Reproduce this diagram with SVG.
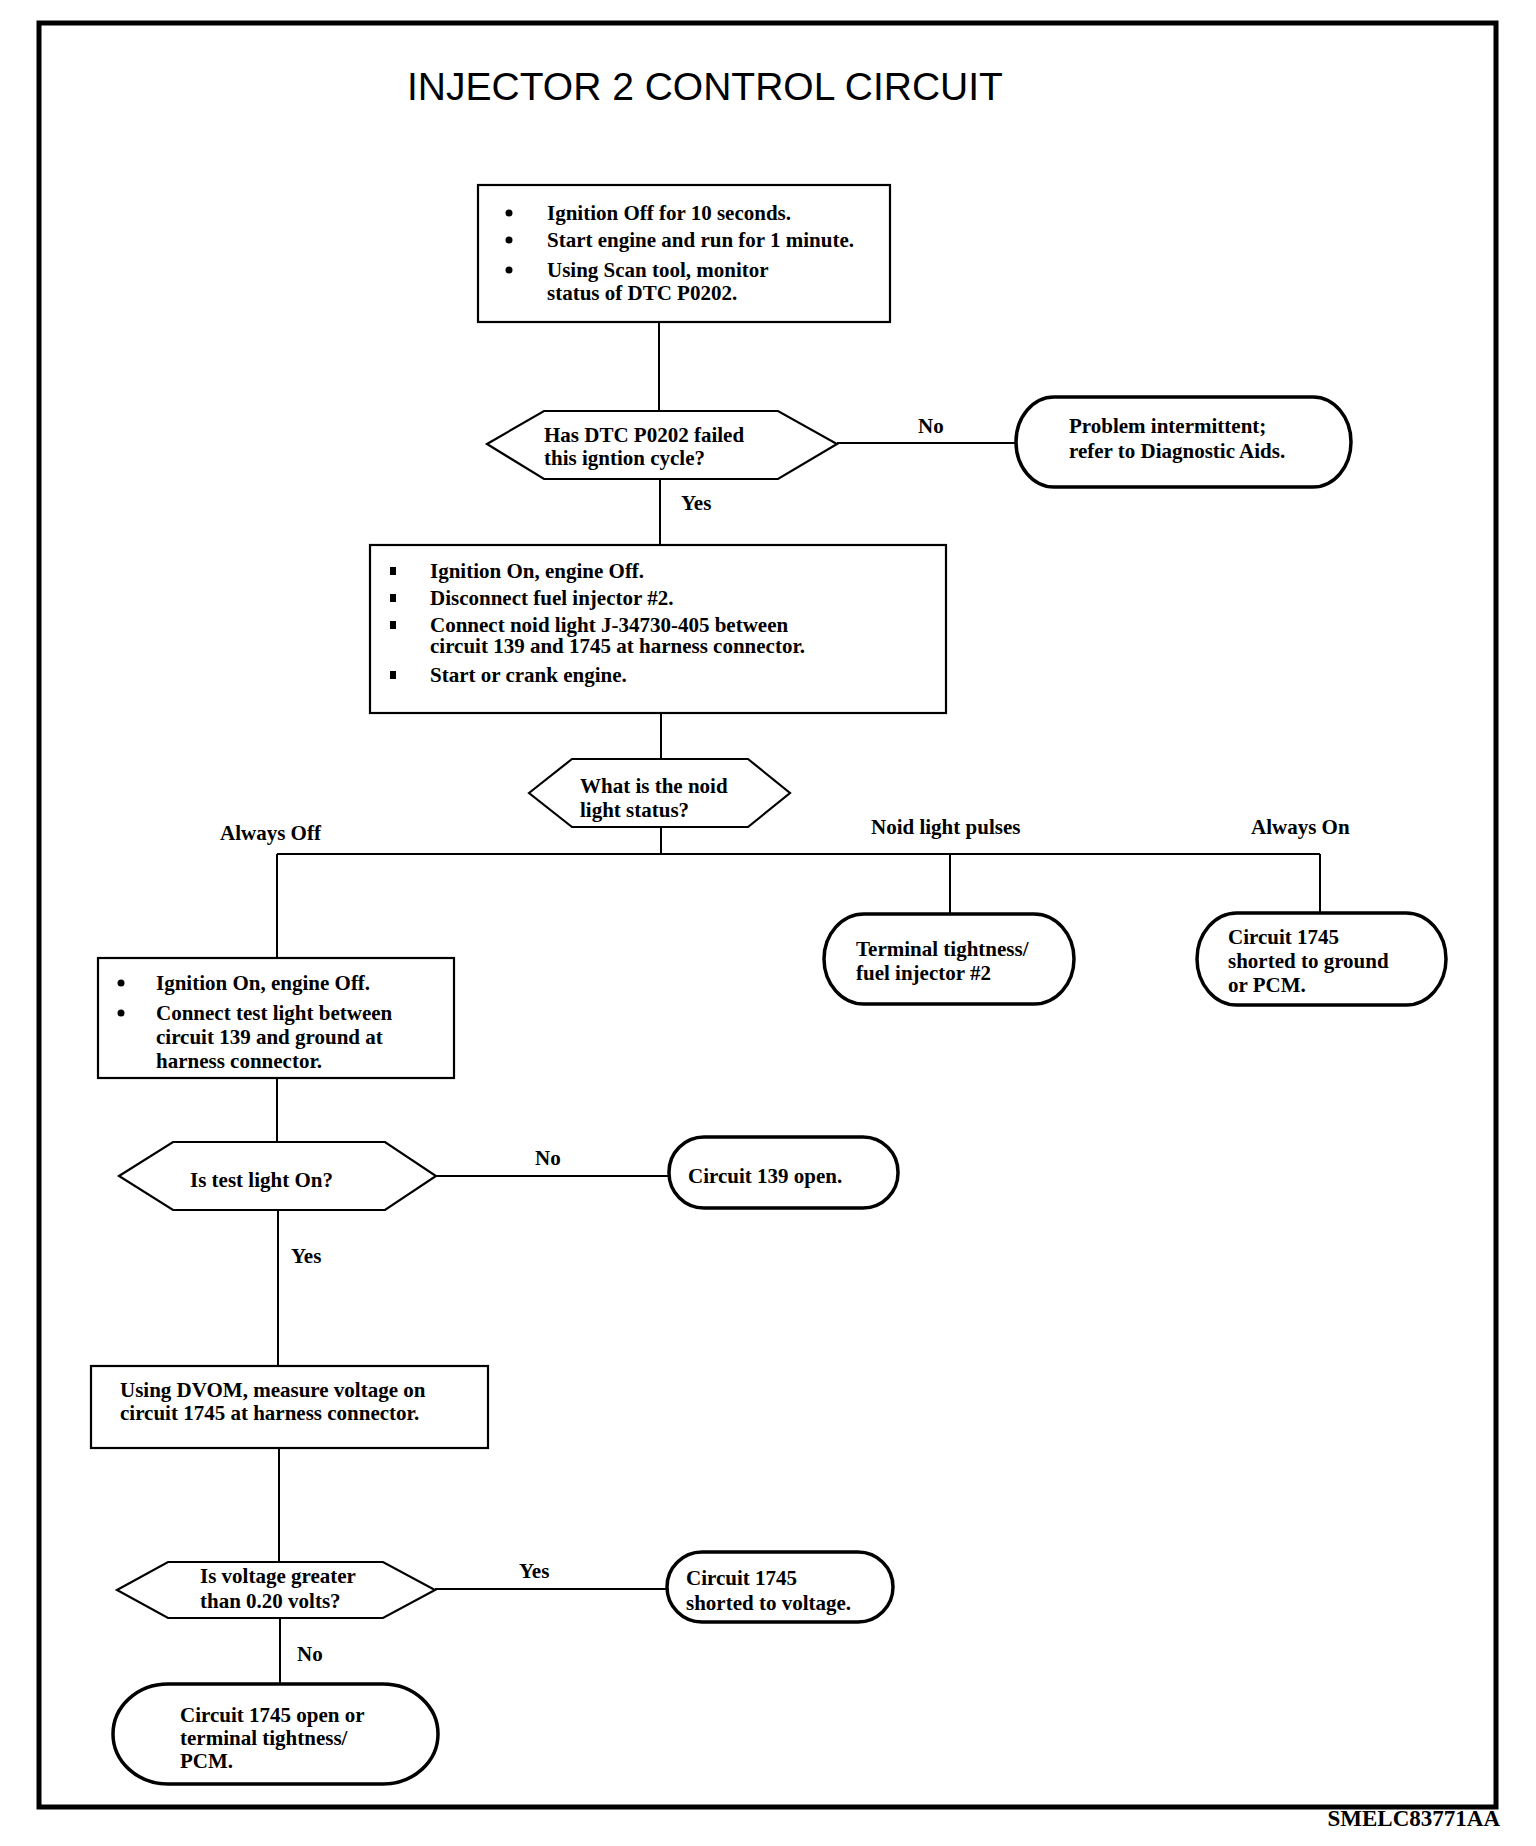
<svg xmlns="http://www.w3.org/2000/svg" width="1536" height="1846" viewBox="0 0 1536 1846">
<style>
.t{font-family:"Liberation Serif","Times New Roman",serif;font-size:21px;font-weight:bold;fill:#000}
.title{font-family:"Liberation Sans",Arial,sans-serif;font-size:39px;fill:#000}
.box{fill:#fff;stroke:#000;stroke-width:2.2}
.dec{fill:#fff;stroke:#000;stroke-width:2.2}
.term{fill:#fff;stroke:#000;stroke-width:3.5}
.ln{fill:none;stroke:#000;stroke-width:2}
.bul{fill:#000}
</style>
<rect width="1536" height="1846" fill="#fff"/>
<rect x="39" y="23" width="1457" height="1784" fill="none" stroke="#000" stroke-width="5"/>
<text class="title" x="407" y="100">INJECTOR 2 CONTROL CIRCUIT</text>

<g id="connectors">
<line class="ln" x1="659" y1="322" x2="659" y2="411"/>
<line class="ln" x1="837" y1="443" x2="1016" y2="443"/>
<line class="ln" x1="660" y1="479" x2="660" y2="545"/>
<line class="ln" x1="661" y1="713" x2="661" y2="759"/>
<line class="ln" x1="661" y1="827" x2="661" y2="854"/>
<line class="ln" x1="277" y1="854" x2="1320" y2="854"/>
<line class="ln" x1="277" y1="854" x2="277" y2="958"/>
<line class="ln" x1="950" y1="854" x2="950" y2="914"/>
<line class="ln" x1="1320" y1="854" x2="1320" y2="913"/>
<line class="ln" x1="277" y1="1078" x2="277" y2="1142"/>
<line class="ln" x1="436" y1="1176" x2="669" y2="1176"/>
<line class="ln" x1="278" y1="1210" x2="278" y2="1366"/>
<line class="ln" x1="279" y1="1448" x2="279" y2="1562"/>
<line class="ln" x1="435" y1="1589" x2="667" y2="1589"/>
<line class="ln" x1="280" y1="1618" x2="280" y2="1684"/>
<text class="t" x="918" y="433">No</text>
<text class="t" x="681" y="510">Yes</text>
<text class="t" x="220" y="840">Always Off</text>
<text class="t" x="871" y="834">Noid light pulses</text>
<text class="t" x="1251" y="834">Always On</text>
<text class="t" x="535" y="1165">No</text>
<text class="t" x="291" y="1263">Yes</text>
<text class="t" x="519" y="1578">Yes</text>
<text class="t" x="297" y="1661">No</text>
</g>

<g id="box1">
<rect class="box" x="478" y="185" width="412" height="137"/>
<circle class="bul" cx="509" cy="213" r="3.5"/>
<circle class="bul" cx="509" cy="240" r="3.5"/>
<circle class="bul" cx="509" cy="270" r="3.5"/>
<text class="t" x="547" y="220">Ignition Off for 10 seconds.</text>
<text class="t" x="547" y="247">Start engine and run for 1 minute.</text>
<text class="t" x="547" y="277">Using Scan tool, monitor</text>
<text class="t" x="547" y="300">status of DTC P0202.</text>
</g>

<g id="dec1">
<polygon class="dec" points="487,444 544,411 778,411 837,444 778,479 544,479"/>
<text class="t" x="544" y="442">Has DTC P0202 failed</text>
<text class="t" x="544" y="465">this igntion cycle?</text>
</g>

<g id="term1">
<rect class="term" x="1016" y="397" width="335" height="90" rx="38" ry="45"/>
<text class="t" x="1069" y="433">Problem intermittent;</text>
<text class="t" x="1069" y="458">refer to Diagnostic Aids.</text>
</g>

<g id="box2">
<rect class="box" x="370" y="545" width="576" height="168"/>
<rect class="bul" x="390" y="567" width="6" height="8"/>
<rect class="bul" x="390" y="594" width="6" height="8"/>
<rect class="bul" x="390" y="621" width="6" height="8"/>
<rect class="bul" x="390" y="671" width="6" height="8"/>
<text class="t" x="430" y="578">Ignition On, engine Off.</text>
<text class="t" x="430" y="605">Disconnect fuel injector #2.</text>
<text class="t" x="430" y="632">Connect noid light J-34730-405 between</text>
<text class="t" x="430" y="653">circuit 139 and 1745 at harness connector.</text>
<text class="t" x="430" y="682">Start or crank engine.</text>
</g>

<g id="dec2">
<polygon class="dec" points="529,793 572,759 748,759 790,793 748,827 572,827"/>
<text class="t" x="580" y="793">What is the noid</text>
<text class="t" x="580" y="817">light status?</text>
</g>

<g id="term2">
<rect class="term" x="824" y="914" width="250" height="90" rx="40" ry="45"/>
<text class="t" x="856" y="956">Terminal tightness/</text>
<text class="t" x="856" y="980">fuel injector #2</text>
</g>

<g id="term3">
<rect class="term" x="1197" y="913" width="249" height="92" rx="40" ry="46"/>
<text class="t" x="1228" y="944">Circuit 1745</text>
<text class="t" x="1228" y="968">shorted to ground</text>
<text class="t" x="1228" y="992">or PCM.</text>
</g>

<g id="box3">
<rect class="box" x="98" y="958" width="356" height="120"/>
<circle class="bul" cx="121" cy="983" r="3.5"/>
<circle class="bul" cx="121" cy="1013" r="3.5"/>
<text class="t" x="156" y="990">Ignition On, engine Off.</text>
<text class="t" x="156" y="1020">Connect test light between</text>
<text class="t" x="156" y="1044">circuit 139 and ground at</text>
<text class="t" x="156" y="1068">harness connector.</text>
</g>

<g id="dec3">
<polygon class="dec" points="119,1176 173,1142 385,1142 436,1176 385,1210 173,1210"/>
<text class="t" x="190" y="1187">Is test light On?</text>
</g>

<g id="term4">
<rect class="term" x="669" y="1137" width="229" height="71" rx="35" ry="35"/>
<text class="t" x="688" y="1183">Circuit 139 open.</text>
</g>

<g id="box4">
<rect class="box" x="91" y="1366" width="397" height="82"/>
<text class="t" x="120" y="1397">Using DVOM, measure voltage on</text>
<text class="t" x="120" y="1420">circuit 1745 at harness connector.</text>
</g>

<g id="dec4">
<polygon class="dec" points="117,1590 168,1562 383,1562 435,1590 383,1618 168,1618"/>
<text class="t" x="200" y="1583">Is voltage greater</text>
<text class="t" x="200" y="1608">than 0.20 volts?</text>
</g>

<g id="term5">
<rect class="term" x="667" y="1552" width="226" height="70" rx="35" ry="35"/>
<text class="t" x="686" y="1585">Circuit 1745</text>
<text class="t" x="686" y="1610">shorted to voltage.</text>
</g>

<g id="term6">
<rect class="term" x="113" y="1684" width="325" height="100" rx="55" ry="50"/>
<text class="t" x="180" y="1722">Circuit 1745 open or</text>
<text class="t" x="180" y="1745">terminal tightness/</text>
<text class="t" x="180" y="1768">PCM.</text>
</g>

<text class="t" x="1500" y="1826" text-anchor="end" style="font-size:23px">SMELC83771AA</text>
</svg>
